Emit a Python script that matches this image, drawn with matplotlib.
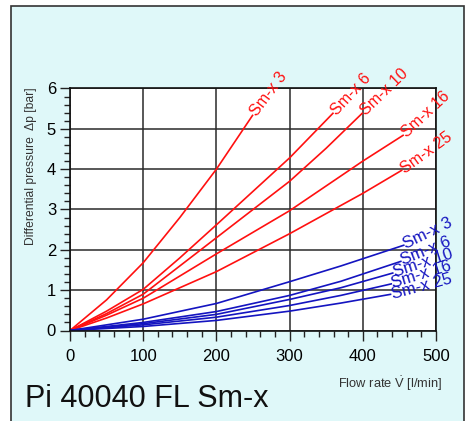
import matplotlib
matplotlib.use('Agg')
import matplotlib.pyplot as plt
from matplotlib.patches import Rectangle
from matplotlib.ticker import MultipleLocator

plt.rcParams['font.family'] = ['Liberation Sans', 'DejaVu Sans']
plt.rcParams['mathtext.fontset'] = 'custom'
plt.rcParams['mathtext.rm'] = 'Liberation Sans'

# Kennlinien
labels = ['Sm-x 3', 'Sm-x 6', 'Sm-x 10', 'Sm-x 16', 'Sm-x 25']

red_x = [[0, 50, 100, 150, 200, 250],
         [0, 50, 100, 150, 200, 250, 300, 360],
         [0, 50, 100, 200, 300, 350, 400],
         [0, 50, 100, 200, 300, 400, 456],
         [0, 50, 100, 200, 300, 400, 454]]
red_y = [[0, 0.76, 1.68, 2.8, 4.0, 5.35],
         [0, 0.48, 1.02, 1.8, 2.62, 3.45, 4.28, 5.4],
         [0, 0.42, 0.9, 2.3, 3.7, 4.52, 5.4],
         [0, 0.38, 0.8, 1.9, 2.97, 4.2, 4.85],
         [0, 0.31, 0.66, 1.46, 2.4, 3.4, 3.98]]

blue_x = [[0, 100, 200, 300, 370, 457],
          [0, 100, 200, 300, 370, 453],
          [0, 100, 200, 300, 370, 442],
          [0, 100, 200, 300, 370, 440],
          [0, 100, 200, 300, 370, 439]]
blue_y = [[0, 0.28, 0.67, 1.21, 1.6, 2.12],
          [0, 0.2, 0.47, 0.87, 1.22, 1.72],
          [0, 0.17, 0.4, 0.77, 1.06, 1.43],
          [0, 0.14, 0.33, 0.62, 0.87, 1.16],
          [0, 0.1, 0.25, 0.48, 0.68, 0.9]]

red_angles = [53, 47, 44, 43, 36]
blue_angles = [26, 22, 18, 17, 15]

fig = plt.figure(figsize=(4.71, 4.21), dpi=100)
fig.patch.set_facecolor('white')
fig.patches.append(Rectangle((11 / 471, -0.02), 453 / 471, 415 / 421 + 0.02,
                             transform=fig.transFigure, facecolor='#dff8f9',
                             edgecolor='#333333', linewidth=1.2, zorder=-5))

ax = fig.add_axes([70 / 471, 90.5 / 421, 366 / 471, 242 / 421])
ax.set_facecolor('white')

for xs, ys, lab, ang in zip(red_x, red_y, labels, red_angles):
    ax.plot(xs, ys, color='#ff1010', lw=1.2, solid_capstyle='butt')
    ax.text(xs[-1], ys[-1], lab, color='#ff1010', fontsize=11.5, rotation=ang,
            rotation_mode='anchor', ha='left', va='center', clip_on=False)

for xs, ys, lab, ang in zip(blue_x, blue_y, labels, blue_angles):
    ax.plot(xs, ys, color='#1414c0', lw=1.2, solid_capstyle='butt')
    ax.text(xs[-1], ys[-1], lab, color='#1414c0', fontsize=12, rotation=ang,
            rotation_mode='anchor', ha='left', va='center', clip_on=False)

ax.set_xlim(0, 500)
ax.set_ylim(0, 6)
ax.xaxis.set_major_locator(MultipleLocator(100))
ax.xaxis.set_minor_locator(MultipleLocator(20))
ax.yaxis.set_major_locator(MultipleLocator(1))
ax.yaxis.set_minor_locator(MultipleLocator(0.2))
ax.grid(True, which='major', color='#2a2a2a', lw=1.1)
ax.set_axisbelow(True)
ax.tick_params(which='major', length=7, width=1, labelsize=12, color='#222222')
ax.tick_params(which='minor', length=4, width=1, color='#222222')
ax.tick_params(axis='x', which='major', pad=6)
ax.tick_params(axis='y', which='major', pad=3)
for s in ax.spines.values():
    s.set_color('#111111')
    s.set_linewidth(1.2)

fig.text(31 / 471, 1 - 87 / 421, 'Differential pressure  Δp [bar]', rotation=90,
         fontsize=8.7, ha='center', va='top', color='#333333')
fig.text(442 / 471, 1 - 384 / 421, r'Flow rate $\mathrm{\dot{V}}$ [l/min]',
         fontsize=9.3, ha='right', va='center', color='#333333')
fig.text(25 / 471, 1 - 399 / 421, 'Pi 40040 FL Sm-x', fontsize=22,
         ha='left', va='center', color='#111111')

fig.savefig('out.png', dpi=100)
